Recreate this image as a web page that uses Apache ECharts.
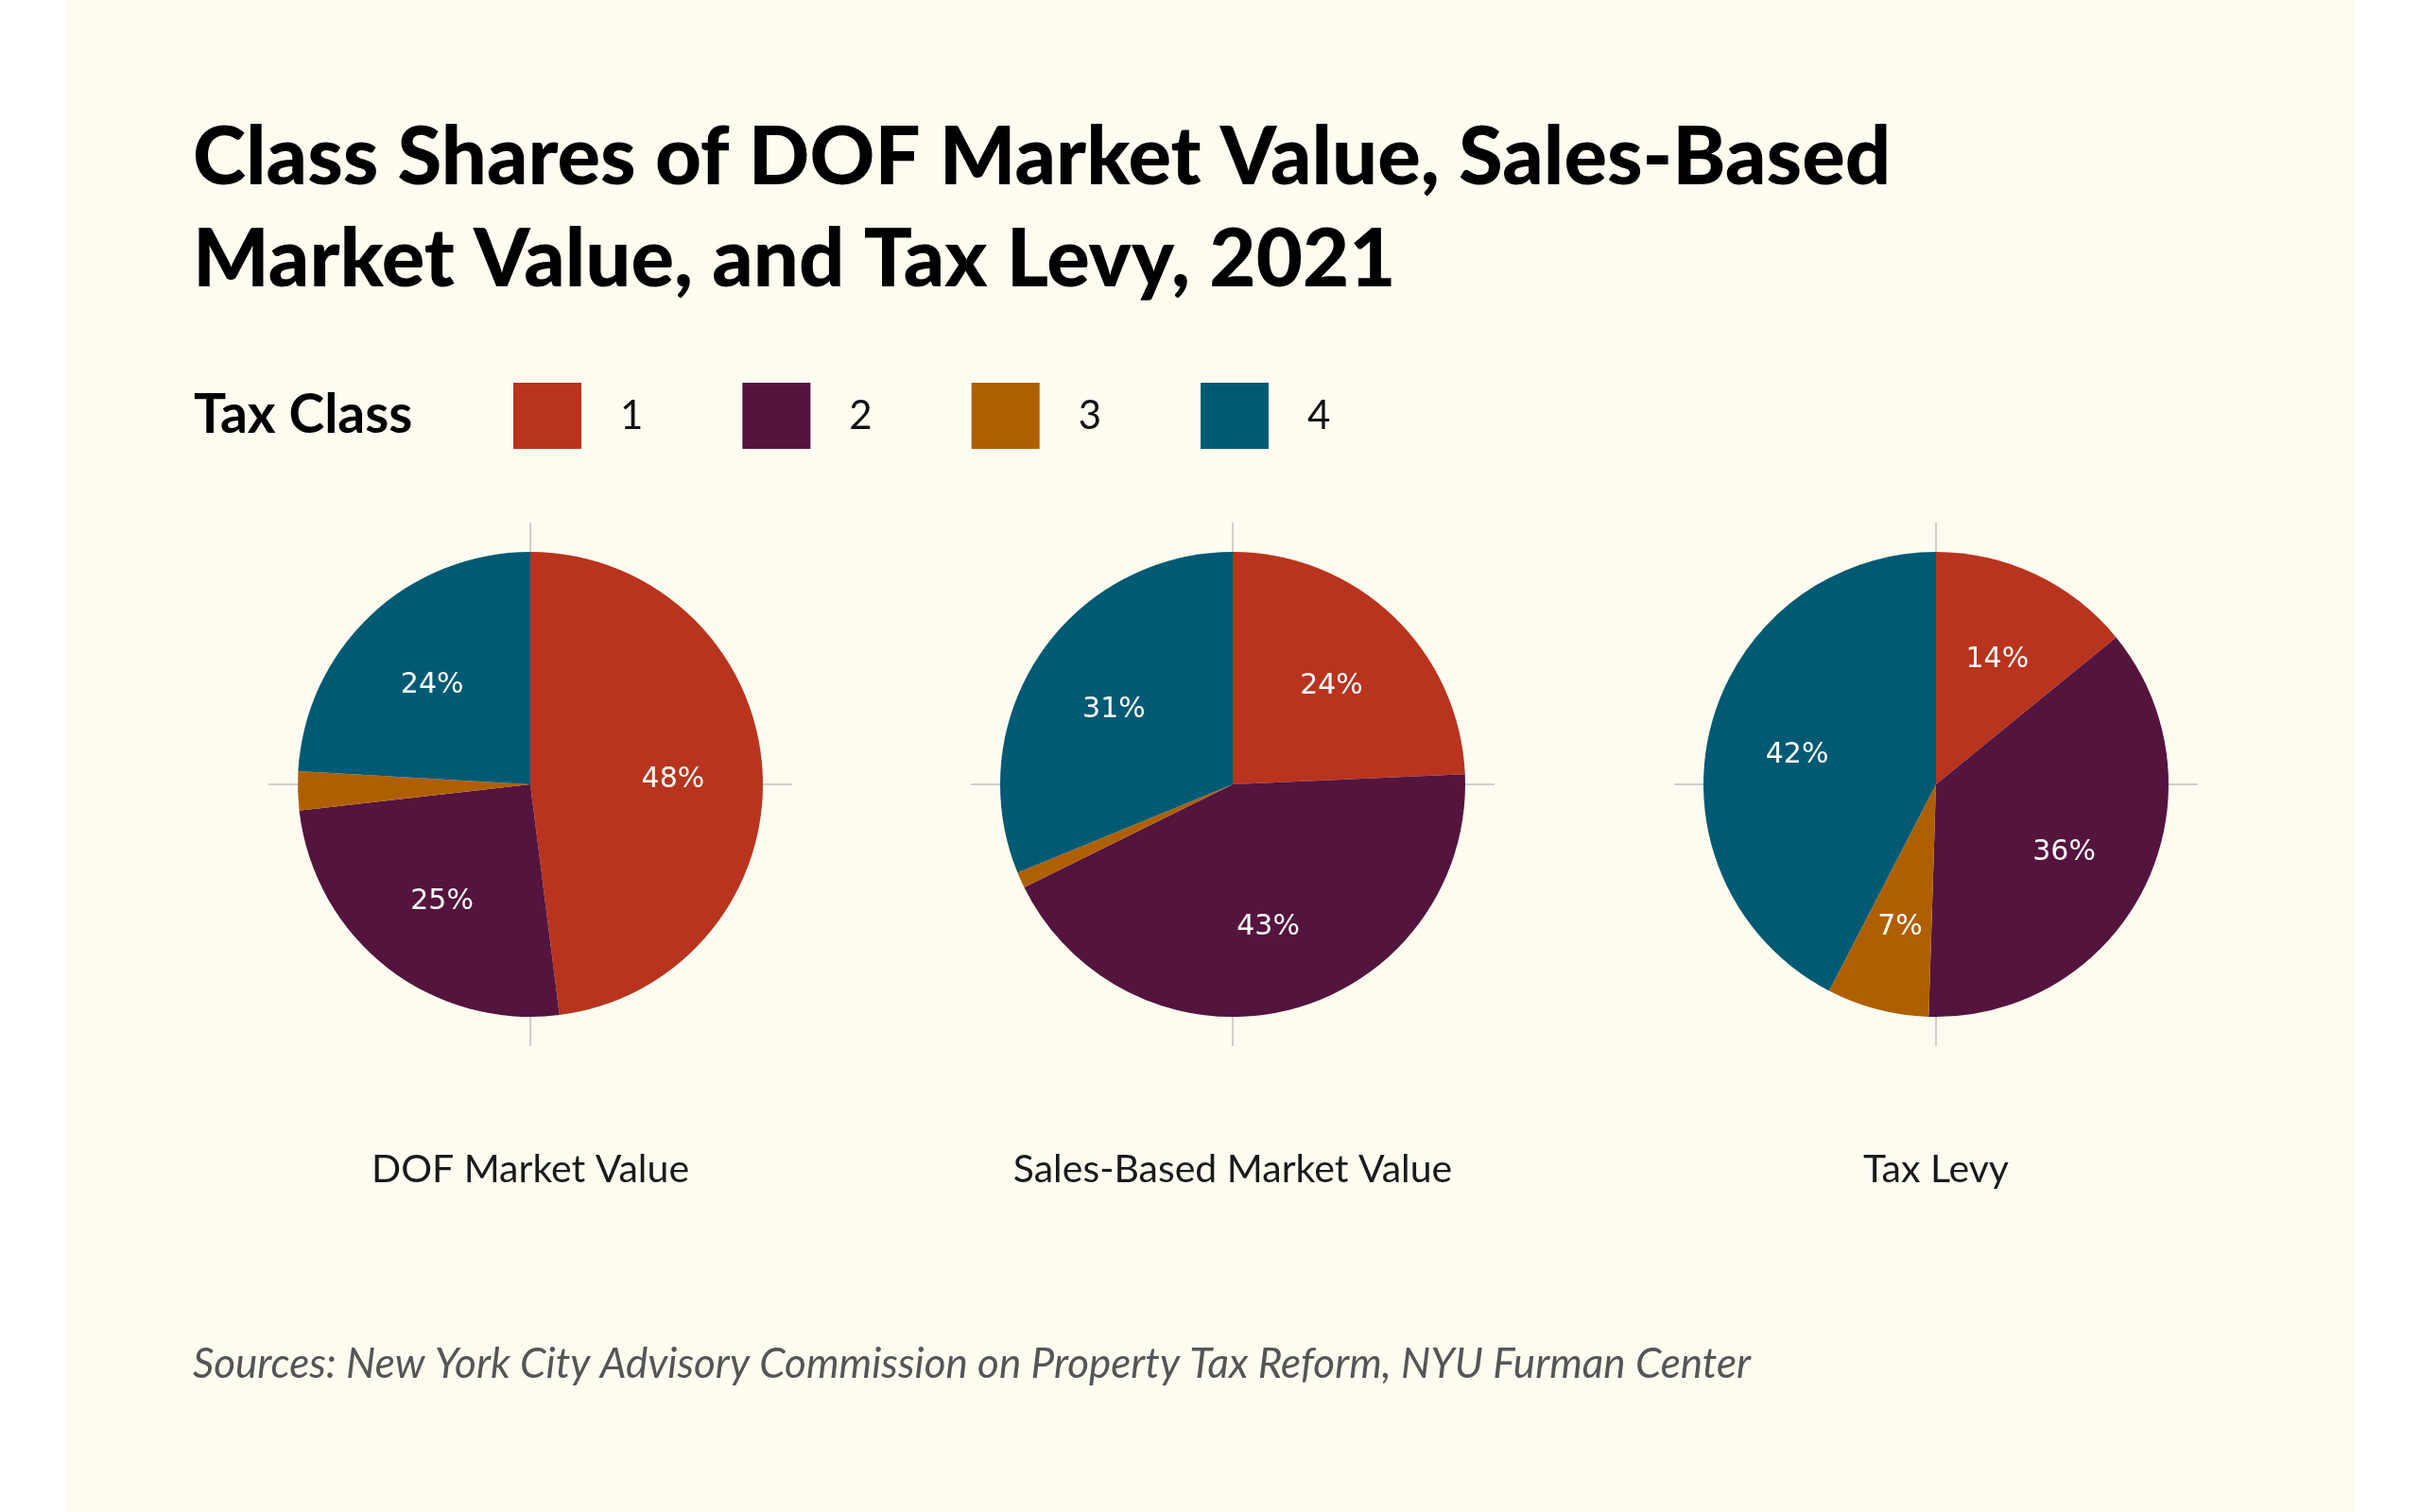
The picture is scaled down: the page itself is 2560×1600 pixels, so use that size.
<!DOCTYPE html>
<html>
<head>
<meta charset="utf-8">
<title>Class Shares of DOF Market Value, Sales-Based Market Value, and Tax Levy, 2021</title>
<script src="https://cdn.jsdelivr.net/npm/echarts@6/dist/echarts.min.js"></script>
<style>
  html, body { margin: 0; padding: 0; background: #ffffff; }
  #chart { width: 2560px; height: 1600px; }
</style>
</head>
<body>
<div id="chart"></div>
<script>
// tax classes and their colours
const taxClasses = ["1", "2", "3", "4"];
const classColors = ["#B8341E", "#54143E", "#B05F00", "#005A74"];

// shares (%), class 1..4
const pieTitles = ["DOF Market Value", "Sales-Based Market Value", "Tax Levy"];
const dofShares = [48.0, 25.2, 2.7, 24.1];
const salesShares = [24.3, 43.4, 1.1, 31.2];
const levyShares = [14.1, 36.4, 7.1, 42.4];

const allShares = [dofShares, salesShares, levyShares];
const centers = [[561, 830], [1304, 830], [2048, 830]];
const pieRadius = 246;
const crossHalf = 277;

const chart = echarts.init(document.getElementById("chart"));

const graphics = [
  // cream panel
  {
    type: "rect",
    z: -100,
    shape: { x: 70, y: 0, width: 2420, height: 1600 },
    style: { fill: "#FEFCF0" },
    silent: true,
  },
];

centers.forEach(function (c, i) {
  graphics.push({
    type: "line",
    z: -50,
    shape: { x1: c[0] - crossHalf, y1: c[1], x2: c[0] + crossHalf, y2: c[1] },
    style: { stroke: "#CFCFCB", lineWidth: 2 },
    silent: true,
  });
  graphics.push({
    type: "line",
    z: -50,
    shape: { x1: c[0], y1: c[1] - crossHalf, x2: c[0], y2: c[1] + crossHalf },
    style: { stroke: "#CFCFCB", lineWidth: 2 },
    silent: true,
  });
  graphics.push({
    type: "text",
    x: c[0],
    y: 1238,
    style: {
      text: pieTitles[i],
      fill: "#1a1a1a",
      fontFamily: "Lato",
      fontSize: 41,
      align: "center",
      verticalAlign: "middle",
    },
    silent: true,
  });
});

graphics.push({
  type: "text",
  x: 205,
  y: 440,
  style: {
    text: "Tax Class",
    fill: "#000",
    fontFamily: "Lato",
    fontWeight: "bold",
    fontSize: 57,
    verticalAlign: "middle",
  },
});

const series = allShares.map(function (shares, i) {
  return {
    type: "pie",
    name: pieTitles[i],
    z: 5,
    center: centers[i],
    radius: [0, pieRadius],
    startAngle: 90,
    clockwise: true,
    animation: false,
    silent: true,
    data: shares.map(function (v, k) {
      return { name: taxClasses[k], value: v, itemStyle: { color: classColors[k] } };
    }),
    label: {
      show: true,
      position: "inside",
      color: "#ffffff",
      fontFamily: "DejaVu Sans",
      fontSize: 30,
      formatter: function (p) {
        return p.value < 5 ? "" : Math.round(p.value) + "%";
      },
    },
    labelLine: { show: false },
    labelLayout: function (params) {
      // push the label from half radius out to about 0.6 of it
      const r = params.labelRect;
      const lx = r.x + r.width / 2;
      const ly = r.y + r.height / 2;
      return { dx: (lx - centers[i][0]) * 0.2, dy: (ly - centers[i][1]) * 0.2 + 5 };
    },
    itemStyle: { borderWidth: 0 },
  };
});

chart.setOption({
  backgroundColor: "#ffffff",
  animation: false,
  title: [
    {
      text: "Class Shares of DOF Market Value, Sales-Based\nMarket Value, and Tax Levy, 2021",
      left: 204,
      top: 114,
      padding: 0,
      textStyle: {
        color: "#000",
        fontFamily: "Lato",
        fontWeight: 900,
        fontSize: 85,
        lineHeight: 108,
      },
    },
    {
      text: "Sources: New York City Advisory Commission on Property Tax Reform, NYU Furman Center",
      left: 204,
      top: 1422,
      padding: 0,
      textStyle: {
        color: "#555555",
        fontFamily: "Lato",
        fontStyle: "italic",
        fontWeight: "normal",
        fontSize: 44,
      },
    },
  ],
  legend: {
    data: taxClasses,
    left: 543,
    top: 405,
    padding: 0,
    orient: "horizontal",
    icon: "rect",
    itemWidth: 72,
    itemHeight: 70,
    itemGap: 105,
    selectedMode: false,
    textStyle: {
      color: "#111",
      fontFamily: "Lato",
      fontSize: 42,
      padding: [0, 0, 0, 36],
    },
  },
  graphic: graphics,
  series: series,
});
</script>
</body>
</html>
